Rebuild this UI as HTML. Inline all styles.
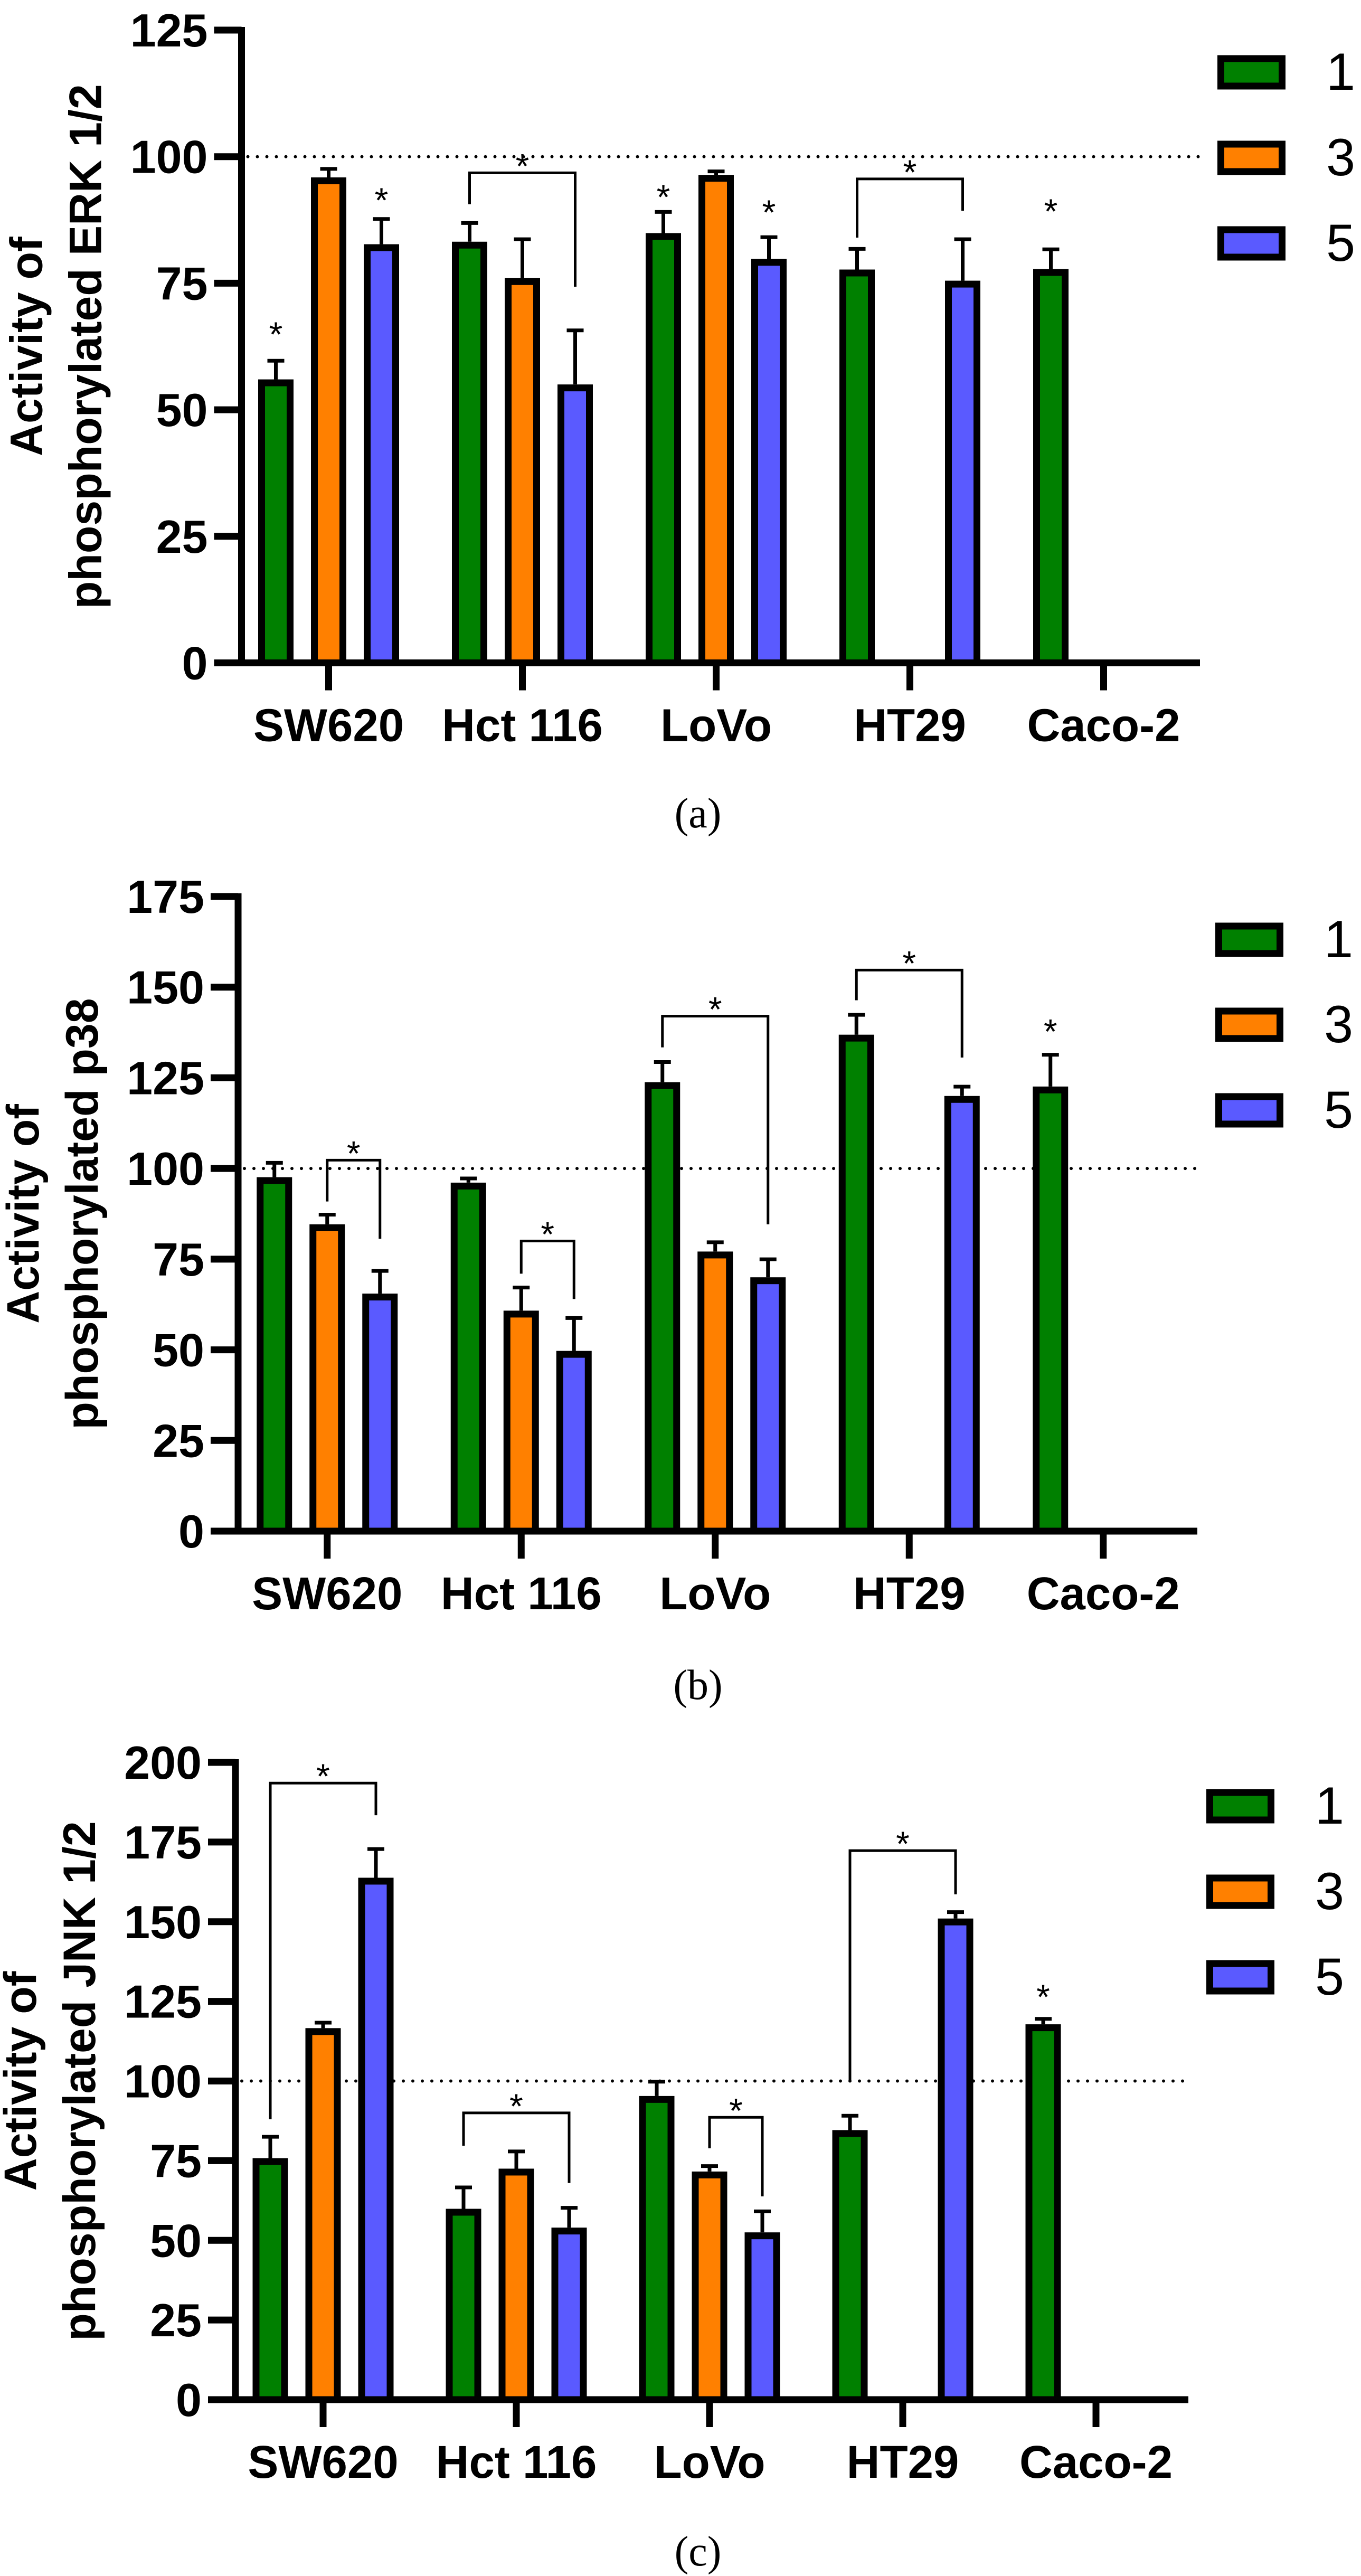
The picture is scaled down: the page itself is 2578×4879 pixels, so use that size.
<!DOCTYPE html>
<html><head><meta charset="utf-8"><style>
html,body{margin:0;padding:0;background:#fff;}
svg{display:block;}
</style></head><body>
<svg id="fig" xmlns="http://www.w3.org/2000/svg" width="2578" height="4879" viewBox="0 0 2578 4879"></svg>
<script>
const categories = ["SW620","Hct 116","LoVo","HT29","Caco-2"];
const seriesNames = ["1","3","5"];
const seriesColors = ["#008000","#ff8000","#5a5aff"];

// Panel (a) ERK 1/2
const erkVals1 = [56, 83.2, 84.9, 77.7, 77.8];
const erkVals3 = [95.9, 76, 96.4, null, null];
const erkVals5 = [82.7, 55, 79.8, 75.5, null];
const erkErr1 = [4, 4, 4.5, 4.4, 4.2];
const erkErr3 = [2, 8, 1, null, null];
const erkErr5 = [5.3, 11, 4.6, 8.5, null];
const erkTicks = [0,25,50,75,100,125];
// brackets: [category, fromSeries, toSeries, top, leftLegEnd, rightLegEnd]
const erkBrackets = [[1,0,2,96.8,90.6,74.3],[3,0,2,95.6,84,89.3]];
// single stars: [category, series, value]
const erkStars = [[0,0,66.5],[0,2,93],[2,0,93.6],[2,2,90.6],[4,0,90.8]];

// Panel (b) p38
const p38Vals1 = [97.6, 96.1, 123.8, 136.9, 122.6];
const p38Vals3 = [84.6, 60.8, 77.1, null, null];
const p38Vals5 = [65.5, 49.7, 70, 120, null];
const p38Err1 = [4.4, 1.6, 6, 5.9, 9.2];
const p38Err3 = [3.1, 6.8, 3, null, null];
const p38Err5 = [6.7, 9.5, 5.4, 3, null];
const p38Ticks = [0,25,50,75,100,125,150,175];
const p38Brackets = [[0,1,2,102.3,90.9,80.6],[1,1,2,80,71,64],[2,0,2,142,133.4,84.6],[3,0,2,154.7,146.4,130.6]];
const p38Stars = [[4,0,140]];

// Panel (c) JNK 1/2
const jnkVals1 = [75.8, 59.9, 95.3, 84.6, 117.8];
const jnkVals3 = [116.6, 72.5, 71.6, null, null];
const jnkVals5 = [163.8, 54, 52.5, 151, null];
const jnkErr1 = [7.2, 7.2, 5, 5, 2.2];
const jnkErr3 = [2.2, 5.9, 2.2, null, null];
const jnkErr5 = [9.5, 6.7, 7.1, 2.5, null];
const jnkTicks = [0,25,50,75,100,125,150,175,200];
const jnkBrackets = [[0,0,2,193.5,88,183.4],[1,0,2,90,79.7,68],[2,1,2,88.6,78.9,63.8],[3,0,2,172.3,99.7,158.6]];
const jnkStars = [[4,0,128.9]];

const NS = "http://www.w3.org/2000/svg";
const svg = document.getElementById("fig");
function mk(tag, attrs, parent){
  const e = document.createElementNS(NS, tag);
  for (const k in attrs) e.setAttribute(k, attrs[k]);
  (parent||svg).appendChild(e);
  return e;
}

function drawPanel(p){
  const g = mk("g", {});
  
  
  const ymax = p.ticks[p.ticks.length-1];
  const y = v => p.y0 - (v/ymax)*(p.y0 - p.yTop);
  const cx = (ci, si) => p.x0 + p.catStep*(ci+0.5) + p.catShift + (si-1)*100;
  const vals = [p.v1,p.v3,p.v5], errs=[p.e1,p.e3,p.e5];

  // reference line
  const ref = mk("line", {x1:p.ax+12, x2:p.xEnd, y1:y(100), y2:y(100), stroke:"#000","stroke-width":6,"stroke-linecap":"round","stroke-dasharray":"0 18"}, g);
  
  

  // bars
  for (let si=0; si<3; si++){
    for (let ci=0; ci<categories.length; ci++){
      const v = vals[si][ci];
      if (v==null) continue;
      const x = cx(ci,si);
      const top = y(v)+6.5;
      const r = mk("rect", {x:x-27, y:top, width:54, height:p.y0-top, fill:seriesColors[si], stroke:"#000","stroke-width":13}, g);
      
      
      const e = errs[si][ci];
      if (e){
        const ye = y(v+e);
        const l = mk("path", {d:`M${x} ${y(v)} V${ye+3} M${x-16} ${ye+3} H${x+16}`, stroke:"#000","stroke-width":7, fill:"none"}, g);
        
        
      }
    }
  }
  // axes
  const yaxis = mk("line", {x1:p.ax, x2:p.ax, y1:p.yTop-6, y2:p.y0+6, stroke:"#000","stroke-width":13}, g);
  
  
  const xaxis = mk("line", {x1:p.ax-52, x2:p.xEnd, y1:p.y0, y2:p.y0, stroke:"#000","stroke-width":13}, g);
  
  
  p.ticks.forEach(t=>{
    const ty = y(t);
    if (t>0){
      const tm = mk("line", {x1:p.ax-52, x2:p.ax, y1:ty, y2:ty, stroke:"#000","stroke-width":13}, g);
      
      
    }
    const tl = mk("text", {x:p.ax-64, y:ty+31, "text-anchor":"end", "font-family":"Liberation Sans, Arial, sans-serif","font-weight":"bold","font-size":88}, g);
    tl.textContent = t;
    
    
  });
  categories.forEach((c,ci)=>{
    const x = cx(ci,1);
    const tm = mk("line", {x1:x, x2:x, y1:p.y0, y2:p.y0+52, stroke:"#000","stroke-width":13}, g);
    
    
    const tl = mk("text", {x:x, y:p.y0+148, "text-anchor":"middle","font-family":"Liberation Sans, Arial, sans-serif","font-weight":"bold","font-size":87}, g);
    tl.textContent = c;
    
    
  });
  // brackets
  p.brackets.forEach(b=>{
    const xl = cx(b[0],b[1]), xr = cx(b[0],b[2]);
    const pa = mk("path", {d:`M${xl} ${y(b[4])} V${y(b[3])} H${xr} V${y(b[5])}`, stroke:"#000","stroke-width":5, fill:"none"}, g);
    
    
    const st = mk("text", {x:(xl+xr)/2, y:y(b[3])-28+38, "text-anchor":"middle","font-family":"Liberation Sans, Arial, sans-serif","font-size":66}, g);
    st.textContent = "*";
    
    
  });
  p.stars.forEach(s=>{
    const st = mk("text", {x:cx(s[0],s[1]), y:y(s[2])+38, "text-anchor":"middle","font-family":"Liberation Sans, Arial, sans-serif","font-size":66}, g);
    st.textContent = "*";
    
    
  });
  // y title
  const my = (p.y0+p.yTop)/2;
  [[p.t1, p.ax-378],[p.t2, p.ax-266]].forEach((tt,i)=>{
    const t = mk("text", {x:tt[1], y:my, transform:`rotate(-90 ${tt[1]} ${my})`, "text-anchor":"middle","font-family":"Liberation Sans, Arial, sans-serif","font-weight":"bold","font-size":86}, g);
    t.textContent = tt[0];
    
    
  });
  // legend
  seriesNames.forEach((n,si)=>{
    const ly = p.legY[si];
    const r = mk("rect", {x:p.legX+6.5, y:ly-26, width:116, height:52, fill:seriesColors[si], stroke:"#000","stroke-width":13}, g);
    
    
    const t = mk("text", {x:p.legX+206, y:ly+33, "font-family":"Liberation Sans, Arial, sans-serif","font-size":99}, g);
    t.textContent = n;
    
    
  });
  // caption
  const cap = mk("text", {x:1322, y:p.capY+27, "text-anchor":"middle","font-family":"Liberation Serif, Times New Roman, serif","font-size":80}, g);
  cap.textContent = p.cap;
  
  
}

drawPanel({name:"panel-a-erk", ax:457.5, x0:439, catStep:367, catShift:0, xEnd:2273, y0:1255.5, yTop:57,
  ticks:erkTicks, v1:erkVals1, v3:erkVals3, v5:erkVals5, e1:erkErr1, e3:erkErr3, e5:erkErr5,
  brackets:erkBrackets, stars:erkStars, t1:"Activity of", t2:"phosphorylated ERK 1/2",
  legX:2306, legY:[137,299,461], cap:"(a)", capY:1540});
drawPanel({name:"panel-b-p38", ax:451, x0:436, catStep:367.5, catShift:0, xEnd:2268, y0:2900, yTop:1698,
  ticks:p38Ticks, v1:p38Vals1, v3:p38Vals3, v5:p38Vals5, e1:p38Err1, e3:p38Err3, e5:p38Err5,
  brackets:p38Brackets, stars:p38Stars, t1:"Activity of", t2:"phosphorylated p38",
  legX:2302, legY:[1780,1941,2103], cap:"(b)", capY:3191});
drawPanel({name:"panel-c-jnk", ax:446, x0:429, catStep:366, catShift:0, xEnd:2251, y0:4545, yTop:3338,
  ticks:jnkTicks, v1:jnkVals1, v3:jnkVals3, v5:jnkVals5, e1:jnkErr1, e3:jnkErr3, e5:jnkErr5,
  brackets:jnkBrackets, stars:jnkStars, t1:"Activity of", t2:"phosphorylated JNK 1/2",
  legX:2285, legY:[3421,3583,3745], cap:"(c)", capY:4832});
</script>
</body></html>
